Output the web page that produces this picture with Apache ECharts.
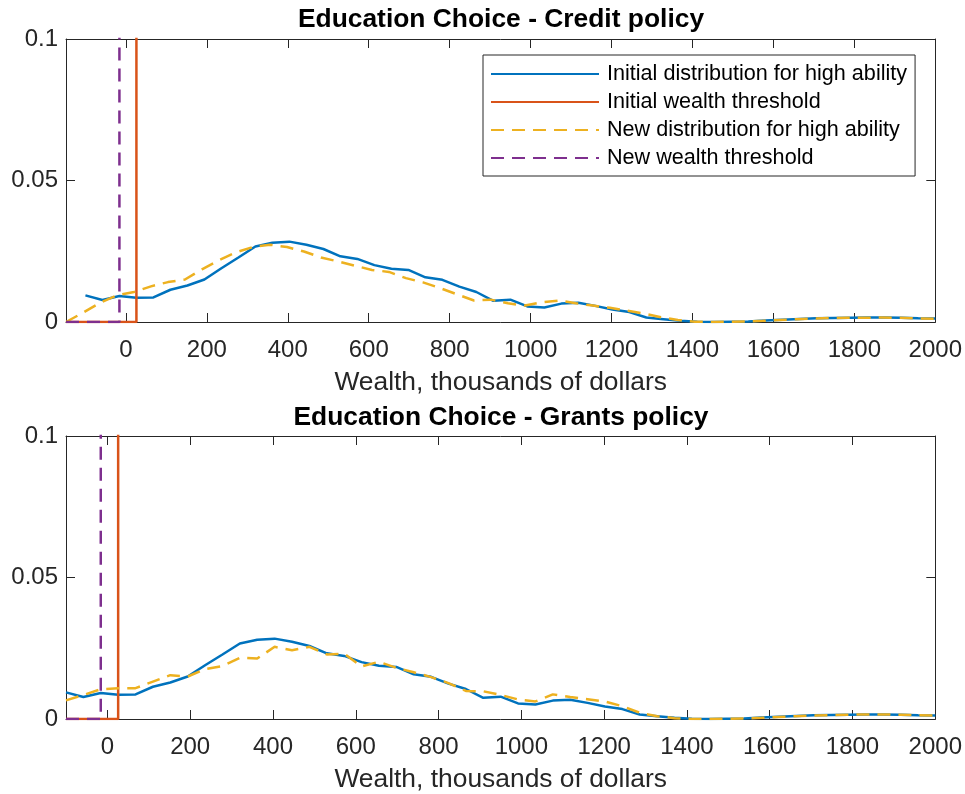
<!DOCTYPE html>
<html>
<head>
<meta charset="utf-8">
<title>Education Choice</title>
<script src="https://cdn.jsdelivr.net/npm/echarts@6/dist/echarts.min.js"></script>
<style>
  html, body { margin: 0; padding: 0; background: #ffffff; }
  #chart { width: 965px; height: 794px; }
</style>
</head>
<body>
<div id="chart"></div>
<script>
// Wealth grid (thousands of dollars) shared by the initial distribution
const wealthGrid = [
  -100, -58, -16, 26, 68, 110, 152, 194, 236, 278,
  320, 362, 404, 446, 488, 530, 572, 614, 656, 698,
  740, 782, 824, 866, 908, 950, 992, 1034, 1076, 1118,
  1160, 1202, 1244, 1286, 1328, 1370, 1412, 1454, 1496, 1538,
  1580, 1622, 1664, 1706, 1748, 1790, 1832, 1874, 1916, 1958,
  2000
];

// Wider grid under the credit policy (borrowing allowed further down)
const creditGrid = [
  -148, -106, -64, -22, 20, 62, 104, 146, 188, 230,
  272, 314, 356, 398, 440, 482, 524, 566, 608, 650,
  692, 734, 776, 818, 860, 902, 944, 986, 1028, 1070,
  1112, 1154, 1196, 1238, 1280, 1322, 1364, 1406, 1448, 1490,
  1532, 1574, 1616, 1658, 1700, 1742, 1784, 1826, 1868, 1910,
  1952, 2000
];

// Initial density of wealth for high-ability agents
const initialDensity = [
  0.0094, 0.0078, 0.0092, 0.0086, 0.0087, 0.0114, 0.0129, 0.0150, 0.0190, 0.0228,
  0.0267, 0.0280, 0.0284, 0.0273, 0.0258, 0.0232, 0.0223, 0.0201, 0.0188, 0.0184,
  0.0158, 0.0149, 0.0125, 0.0106, 0.0075, 0.0079, 0.0055, 0.0051, 0.0065, 0.0068,
  0.0057, 0.0044, 0.0035, 0.0016, 0.0010, 0.0004, 0.0001, 0.0000, 0.0001, 0.0002,
  0.0005, 0.0008, 0.0011, 0.0013, 0.0014, 0.0015, 0.0016, 0.0016, 0.0015, 0.0013,
  0.0012
];

// New density after the credit policy (on creditGrid)
const creditDensity = [
  0.0000, 0.0033, 0.0068, 0.0094, 0.0106, 0.0126, 0.0141, 0.0150, 0.0186, 0.0218,
  0.0246, 0.0265, 0.0273, 0.0265, 0.0249, 0.0228, 0.0214, 0.0199, 0.0184, 0.0177,
  0.0155, 0.0140, 0.0120, 0.0098, 0.0076, 0.0079, 0.0066, 0.0058, 0.0070, 0.0076,
  0.0066, 0.0058, 0.0050, 0.0040, 0.0030, 0.0017, 0.0007, 0.0001, 0.0000, 0.0001,
  0.0002, 0.0004, 0.0007, 0.0010, 0.0012, 0.0014, 0.0015, 0.0015, 0.0016, 0.0015,
  0.0013, 0.0011
];

// New density after the grants policy (on wealthGrid)
const grantsDensity = [
  0.0066, 0.0085, 0.0105, 0.0109, 0.0109, 0.0132, 0.0155, 0.0150, 0.0176, 0.0187,
  0.0216, 0.0214, 0.0255, 0.0243, 0.0255, 0.0228, 0.0231, 0.0186, 0.0202, 0.0181,
  0.0165, 0.0148, 0.0127, 0.0099, 0.0098, 0.0085, 0.0069, 0.0062, 0.0087, 0.0078,
  0.0070, 0.0062, 0.0045, 0.0022, 0.0010, 0.0003, 0.0000, 0.0000, 0.0001, 0.0002,
  0.0004, 0.0007, 0.0010, 0.0012, 0.0014, 0.0015, 0.0016, 0.0016, 0.0015, 0.0013,
  0.0012
];

// Wealth thresholds for choosing education (thousands of dollars)
const creditInitialThreshold = 26;
const creditNewThreshold = -16;
const grantsInitialThreshold = 26;
const grantsNewThreshold = -16;
// Indicator level above the threshold
const indicatorHigh = 1;

// Axis extents and tick labels
const creditRange = [-148, 2000];
const grantsRange = [-100, 2000];
const xTicks = [0, 200, 400, 600, 800, 1000, 1200, 1400, 1600, 1800, 2000];
const yTicks = [0, 0.05, 0.1];

const titles = ['Education Choice - Credit policy', 'Education Choice - Grants policy'];
const xLabel = 'Wealth, thousands of dollars';
const names = [
  'Initial distribution for high ability',
  'Initial wealth threshold',
  'New distribution for high ability',
  'New wealth threshold'
];

const COLORS = ['#0072BD', '#D95319', '#EDB120', '#7E2F8E'];
const AXIS = '#262626';
const FONT = 'Liberation Sans, Arial, Helvetica, sans-serif';
const LINE_W = 2.5;
const DASH = [13, 8];

function pairs(xs, ys) {
  return xs.map((x, i) => [x, ys[i]]);
}
function step(xmin, t) {
  return [[xmin, 0], [t, 0], [t, indicatorHigh]];
}

const grids = [
  { left: 66, right: 29, top: 39, height: 283 },
  { left: 66, right: 29, top: 436, height: 285 }
];

function xAxes(gridIndex, range) {
  const base = {
    gridIndex, type: 'value', min: range[0], max: range[1],
    splitLine: { show: false },
    axisLine: { show: true, onZero: false, lineStyle: { color: AXIS, width: 1 } },
    axisTick: { show: true, inside: true, length: 9, customValues: xTicks, lineStyle: { color: AXIS } }
  };
  return [
    Object.assign({}, base, {
      position: 'bottom',
      axisLabel: {
        show: true, customValues: xTicks, margin: 16, color: AXIS,
        fontFamily: FONT, fontSize: 24,
        formatter: v => String(v)
      },
      name: xLabel, nameLocation: 'middle', nameGap: 48,
      nameTextStyle: { color: AXIS, fontFamily: FONT, fontSize: 26.4 }
    }),
    Object.assign({}, base, { position: 'top', axisLabel: { show: false } })
  ];
}

function yAxes(gridIndex) {
  const base = {
    gridIndex, type: 'value', min: yTicks[0], max: yTicks[yTicks.length - 1], interval: 0.05,
    splitLine: { show: false },
    axisLine: { show: true, onZero: false, lineStyle: { color: AXIS, width: 1 } },
    axisTick: { show: true, inside: true, length: 9, lineStyle: { color: AXIS } }
  };
  return [
    Object.assign({}, base, {
      position: 'left',
      axisLabel: {
        show: true, margin: 8, color: AXIS, fontFamily: FONT, fontSize: 24,
        formatter: v => String(v)
      }
    }),
    Object.assign({}, base, { position: 'right', axisLabel: { show: false } })
  ];
}

function panelSeries(axisIdx, distX, distY, range, tInit, tNew) {
  const common = {
    type: 'line', xAxisIndex: axisIdx, yAxisIndex: axisIdx,
    symbol: 'none', clip: true, silent: true
  };
  return [
    Object.assign({}, common, {
      name: names[0], data: pairs(wealthGrid, initialDensity),
      lineStyle: { color: COLORS[0], width: LINE_W }, itemStyle: { color: COLORS[0] }
    }),
    Object.assign({}, common, {
      name: names[1], data: step(range[0], tInit),
      lineStyle: { color: COLORS[1], width: LINE_W }, itemStyle: { color: COLORS[1] }
    }),
    Object.assign({}, common, {
      name: names[2], data: pairs(distX, distY),
      lineStyle: { color: COLORS[2], width: LINE_W, type: DASH }, itemStyle: { color: COLORS[2] }
    }),
    Object.assign({}, common, {
      name: names[3], data: step(range[0], tNew),
      lineStyle: { color: COLORS[3], width: LINE_W, type: DASH }, itemStyle: { color: COLORS[3] }
    })
  ];
}

const option = {
  animation: false,
  backgroundColor: '#ffffff',
  title: [
    {
      text: titles[0], left: 501, top: 7, textAlign: 'center', padding: 0,
      textStyle: { color: '#000000', fontFamily: FONT, fontSize: 26.4, fontWeight: 'bold' }
    },
    {
      text: titles[1], left: 501, top: 405, textAlign: 'center', padding: 0,
      textStyle: { color: '#000000', fontFamily: FONT, fontSize: 26.4, fontWeight: 'bold' }
    }
  ],
  legend: {
    data: names,
    orient: 'vertical',
    left: 483, top: 55,
    padding: [8, 8, 7, 7],
    itemWidth: 108, itemHeight: 22, itemGap: 6,
    backgroundColor: '#ffffff',
    borderColor: AXIS, borderWidth: 1, borderRadius: 0,
    selectedMode: false,
    // line-only keys: hide the marker drawn at the middle of each key
    itemStyle: { color: 'rgba(0,0,0,0)', borderWidth: 0, opacity: 0 },
    textStyle: { color: '#000000', fontFamily: FONT, fontSize: 21.6, padding: [0, 0, 0, 3] }
  },
  grid: grids,
  xAxis: [].concat(xAxes(0, creditRange), xAxes(1, grantsRange)),
  yAxis: [].concat(yAxes(0), yAxes(1)),
  series: [].concat(
    panelSeries(0, creditGrid, creditDensity, creditRange, creditInitialThreshold, creditNewThreshold),
    panelSeries(2, wealthGrid, grantsDensity, grantsRange, grantsInitialThreshold, grantsNewThreshold)
  )
};

const chart = echarts.init(document.getElementById('chart'), null, { renderer: 'canvas' });
chart.setOption(option);
</script>
</body>
</html>
